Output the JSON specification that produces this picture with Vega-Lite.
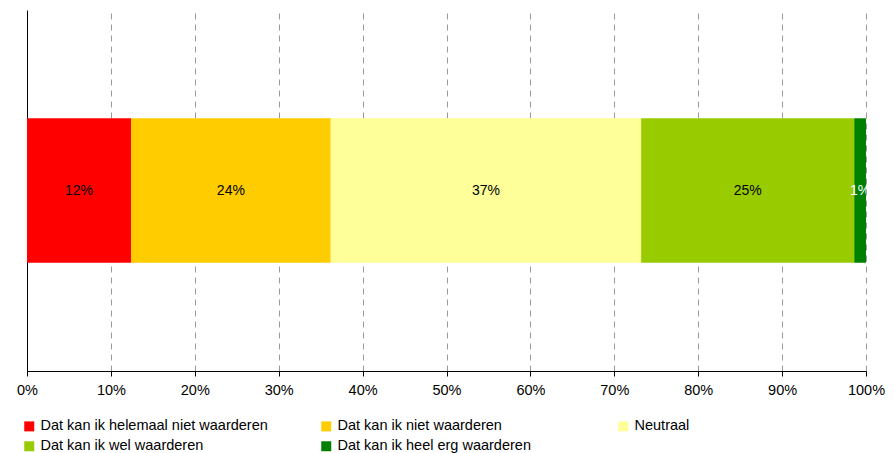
{
  "$schema": "https://vega.github.io/schema/vega-lite/v6.json",
  "width": 839,
  "height": 361,
  "autosize": {"type": "none"},
  "padding": {"left": 27, "top": 10, "right": 28, "bottom": 82},
  "background": "white",
  "config": {
    "view": {"stroke": null},
    "font": "Liberation Sans"
  },
  "data": {
    "values": [
      {"category": "Dat kan ik helemaal niet waarderen", "k": 1, "value": 0.124},
      {"category": "Dat kan ik niet waarderen", "k": 2, "value": 0.238},
      {"category": "Neutraal", "k": 3, "value": 0.370},
      {"category": "Dat kan ik wel waarderen", "k": 4, "value": 0.254},
      {"category": "Dat kan ik heel erg waarderen", "k": 5, "value": 0.014}
    ]
  },
  "transform": [
    {"stack": "value", "groupby": [], "sort": [{"field": "k"}], "as": ["x0", "x1"]},
    {"calculate": "(datum.x0 + datum.x1) / 2", "as": "xm"},
    {"calculate": "'row'", "as": "row"}
  ],
  "encoding": {
    "y": {
      "field": "row",
      "type": "nominal",
      "scale": {"paddingInner": 0.6, "paddingOuter": 0.3},
      "axis": {"labels": false, "ticks": false, "title": null, "domainColor": "#000000", "domainWidth": 1}
    }
  },
  "layer": [
    {
      "mark": {"type": "bar", "cornerRadius": 0},
      "encoding": {
        "x": {
          "field": "x0",
          "type": "quantitative",
          "scale": {"domain": [0, 1], "nice": false},
          "axis": {
            "format": ".0%",
            "values": [0, 0.1, 0.2, 0.3, 0.4, 0.5, 0.6, 0.7, 0.8, 0.9, 1],
            "title": null,
            "grid": true,
            "gridDash": [6, 5],
            "gridColor": "#9a9a9a",
            "gridWidth": 1,
            "domainColor": "#000000",
            "tickColor": "#000000",
            "tickSize": 5,
            "labelPadding": 7,
            "labelFontSize": 14.5,
            "labelColor": "#000000",
            "labelFont": "Liberation Sans",
            "labelFlush": false
          }
        },
        "x2": {"field": "x1"},
        "color": {
          "field": "category",
          "type": "nominal",
          "scale": {
            "domain": ["Dat kan ik helemaal niet waarderen", "Dat kan ik niet waarderen", "Neutraal", "Dat kan ik wel waarderen", "Dat kan ik heel erg waarderen"],
            "range": ["#FF0000", "#FFCC00", "#FFFF99", "#99CC00", "#008000"]
          },
          "legend": {
            "title": null,
            "orient": "none",
            "legendX": -5,
            "legendY": 409,
            "direction": "horizontal",
            "columns": 3,
            "gridAlign": "all",
            "columnPadding": 51,
            "rowPadding": 5,
            "padding": 0,
            "symbolType": "square",
            "symbolSize": 100,
            "symbolStrokeWidth": 0,
            "symbolOpacity": 1,
            "labelFontSize": 14.5,
            "labelFont": "Liberation Sans",
            "labelColor": "#000000",
            "labelOffset": 4,
            "labelLimit": 400
          }
        }
      }
    },
    {
      "mark": {"type": "text", "fontSize": 14, "font": "Liberation Sans", "clip": true, "align": "center", "baseline": "middle"},
      "encoding": {
        "x": {"field": "xm", "type": "quantitative"},
        "text": {"field": "value", "type": "quantitative", "format": ".0%"},
        "color": {
          "condition": {"test": "datum.k == 5", "value": "#FFFFFF"},
          "value": "#000000"
        }
      }
    }
  ]
}
